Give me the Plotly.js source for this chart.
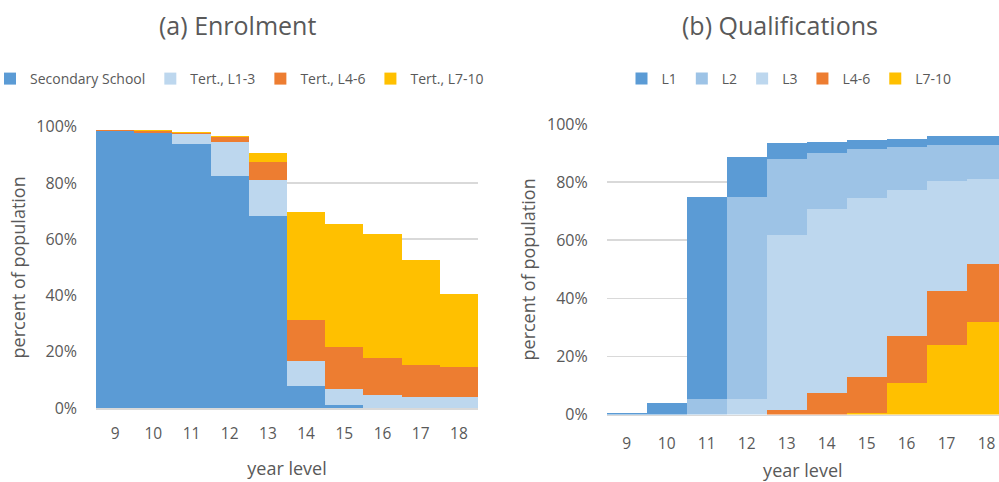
<!DOCTYPE html>
<html>
<head>
<meta charset="utf-8">
<script src="https://cdn.plot.ly/plotly-3.0.1.min.js"></script>
<style>
html,body{margin:0;padding:0;background:#fff;overflow:hidden;}
#chart{width:999px;height:482px;}
</style>
</head>
<body>
<div id="chart"></div>
<script>
// ---- data ----
const yearLevels = ["9","10","11","12","13","14","15","16","17","18"];

// (a) Enrolment, percent of population
const enrolSecondary = [98.5, 97.6, 93.8, 82.4, 68.3, 7.9, 1.2, 0, 0, 0];
const enrolTertL1_3  = [0, 0.2, 3.6, 12.3, 12.7, 8.8, 5.4, 4.7, 4.0, 4.0];
const enrolTertL4_6  = [0.4, 0.5, 0.5, 1.7, 6.5, 14.7, 15.1, 13.0, 11.3, 10.5];
const enrolTertL7_10 = [0, 0.5, 0.3, 0.3, 3.2, 38.2, 43.8, 44.1, 37.4, 26.0];

// (b) Qualifications, percent of population
const qualL1    = [0.4, 3.8, 69.8, 13.6, 5.8, 3.8, 3.1, 2.6, 3.0, 3.0];
const qualL2    = [0, 0, 5.3, 69.8, 26.0, 19.5, 16.7, 14.9, 12.4, 11.6];
const qualL3    = [0, 0, 0, 5.3, 60.2, 63.2, 61.8, 50.4, 38.1, 29.6];
const qualL4_6  = [0, 0, 0, 0, 1.7, 7.5, 12.5, 16.0, 18.5, 19.8];
const qualL7_10 = [0, 0, 0, 0, 0, 0, 0.4, 11.0, 23.9, 31.9];

const yTicks = [0, 20, 40, 60, 80, 100];
const yTickText = ["0%", "20%", "40%", "60%", "80%", "100%"];

// ---- style ----
const C_BLUE = "#5b9bd5", C_MID = "#9dc3e6", C_LIGHT = "#bdd7ee", C_ORANGE = "#ed7d31", C_YELLOW = "#ffc000";
const TXT = "#595959";
const FONT = "Open Sans, sans-serif";

function bar(name, y, color, xa, ya, legend, rank) {
  return {type: "bar", name: name, x: yearLevels, y: y, xaxis: xa, yaxis: ya,
    legend: legend, legendrank: rank,
    marker: {color: color, line: {width: 0}}, hoverinfo: "x+y+name"};
}

const traces = [
  bar("Secondary School", enrolSecondary, C_BLUE, "x", "y", "legend", 1),
  bar("Tert., L1-3", enrolTertL1_3, C_LIGHT, "x", "y", "legend", 2),
  bar("Tert., L4-6", enrolTertL4_6, C_ORANGE, "x", "y", "legend", 3),
  bar("Tert., L7-10", enrolTertL7_10, C_YELLOW, "x", "y", "legend", 4),
  bar("L7-10", qualL7_10, C_YELLOW, "x2", "y2", "legend2", 5),
  bar("L4-6", qualL4_6, C_ORANGE, "x2", "y2", "legend2", 4),
  bar("L3", qualL3, C_LIGHT, "x2", "y2", "legend2", 3),
  bar("L2", qualL2, C_MID, "x2", "y2", "legend2", 2),
  bar("L1", qualL1, C_BLUE, "x2", "y2", "legend2", 1)
];

const H = 482, W = 999;
function py(px) { return 1 - px / H; }

function yaxisCfg(domain, anchor) {
  return {domain: domain, anchor: anchor, range: [0, 100], tickvals: yTicks, ticktext: yTickText,
    automargin: false,
    showgrid: true, gridcolor: "#d9d9d9", gridwidth: 1.8, zeroline: false, showline: false,
    ticks: "", ticklabelstandoff: 18, tickfont: {size: 16, color: TXT, family: FONT},
    fixedrange: true,
    title: {text: "percent of population", font: {size: 18, color: TXT, family: FONT}, standoff: 6}};
}
function xaxisCfg(domain, anchor, range, standoff, tstand) {
  return {domain: domain, anchor: anchor, type: "category", range: range,
    automargin: false,
    showgrid: false, zeroline: false, showline: true, linecolor: "#d9d9d9", linewidth: 1.8,
    ticks: "", ticklabelstandoff: standoff, tickfont: {size: 15.5, color: TXT, family: FONT},
    fixedrange: true,
    title: {text: "year level", font: {size: 18, color: TXT, family: FONT}, standoff: tstand}};
}

const layout = {
  width: W, height: H,
  margin: {l: 0, r: 0, t: 0, b: 0, autoexpand: false},
  paper_bgcolor: "#ffffff", plot_bgcolor: "#ffffff",
  barmode: "stack", bargap: 0,
  font: {family: FONT, color: TXT},
  showlegend: true,
  xaxis: xaxisCfg([96 / W, 478 / W], "y", [-0.5, 9.5], 11, 19),
  yaxis: yaxisCfg([py(408), py(126.7)], "x"),
  xaxis2: xaxisCfg([606.7 / W, 1], "y2", [-0.5, 9.31], 14, 18),
  yaxis2: yaxisCfg([py(414.5), py(124.3)], "x2"),
  legend: {orientation: "h", x: -10 / W, xanchor: "left", y: py(79), yanchor: "middle",
    font: {size: 14, color: TXT, family: FONT}, traceorder: "normal", itemwidth: 30,
    bgcolor: "rgba(0,0,0,0)"},
  legend2: {orientation: "h", x: 789 / W, xanchor: "center", y: py(79), yanchor: "middle",
    font: {size: 14, color: TXT, family: FONT}, traceorder: "normal", itemwidth: 30,
    bgcolor: "rgba(0,0,0,0)"},
  annotations: [
    {text: "(a) Enrolment", xref: "paper", yref: "paper", x: 237 / W, y: py(25), xanchor: "center", yanchor: "middle",
      showarrow: false, font: {size: 25, color: TXT, family: FONT}},
    {text: "(b) Qualifications", xref: "paper", yref: "paper", x: 780 / W, y: py(25), xanchor: "center", yanchor: "middle",
      showarrow: false, font: {size: 25, color: TXT, family: FONT}}
  ]
};

Plotly.newPlot("chart", traces, layout, {displayModeBar: false, staticPlot: true});
</script>
</body>
</html>
